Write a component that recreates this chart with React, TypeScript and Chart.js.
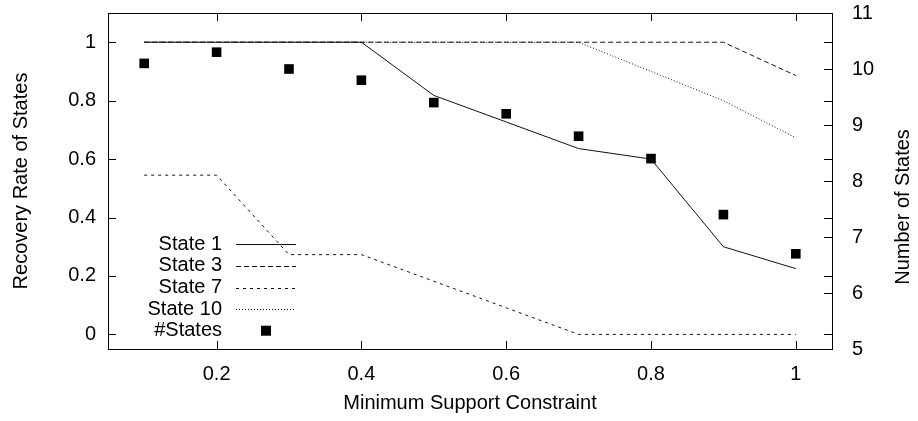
import React, { useEffect, useRef } from "react";
import { Chart, registerables } from "chart.js";

Chart.register(...registerables);

// ---- data ----
const SUPPORT = [0.1, 0.2, 0.3, 0.4, 0.5, 0.6, 0.7, 0.8, 0.9, 1.0];
const STATE_1 = [1, 1, 1, 1, 0.818, 0.727, 0.636, 0.6, 0.3, 0.225];
const STATE_3 = [1, 1, 1, 1, 1, 1, 1, 1, 1, 0.886];
const STATE_7 = [0.545, 0.545, 0.273, 0.273, 0.182, 0.091, 0, 0, 0, 0];
const STATE_10 = [1, 1, 1, 1, 1, 1, 1, 0.9, 0.8, 0.673];
const NUM_STATES = [10.1, 10.3, 10.0, 9.8, 9.4, 9.2, 8.8, 8.4, 7.4, 6.7];

const X_TICKS = [0.2, 0.4, 0.6, 0.8, 1];
const Y_TICKS = [0, 0.2, 0.4, 0.6, 0.8, 1];
const Y2_TICKS = [5, 6, 7, 8, 9, 10, 11];

const LABELS = ["State 1", "State 3", "State 7", "State 10", "#States"];
const X_TITLE = "Minimum Support Constraint";
const Y_TITLE = "Recovery Rate of States";
const Y2_TITLE = "Number of States";

const FONT = "'Liberation Sans', Arial, Helvetica, sans-serif";
const FS = 20;

const pts = (ys: number[]) => SUPPORT.map((x, i) => ({ x, y: ys[i] }));
const fmt = (v: any) => String(+Number(v).toFixed(2));

const zeroPad = (s: any) => {
  s.paddingTop = 0;
  s.paddingBottom = 0;
  s.paddingLeft = 0;
  s.paddingRight = 0;
};

const decorPlugin = {
  id: "decor",
  afterDraw(chart: any) {
    const { ctx, chartArea: a, scales } = chart;
    const T = 8;
    ctx.save();
    ctx.strokeStyle = "#000";
    ctx.lineWidth = 1;
    ctx.strokeRect(a.left + 0.5, a.top + 0.5, a.right - a.left, a.bottom - a.top);
    ctx.beginPath();
    scales.x.ticks.forEach((t: any) => {
      const px = Math.round(scales.x.getPixelForValue(t.value)) + 0.5;
      ctx.moveTo(px, a.bottom);
      ctx.lineTo(px, a.bottom - T);
      ctx.moveTo(px, a.top);
      ctx.lineTo(px, a.top + T);
    });
    scales.y.ticks.forEach((t: any) => {
      const py = Math.round(scales.y.getPixelForValue(t.value)) + 0.5;
      ctx.moveTo(a.left, py);
      ctx.lineTo(a.left + T, py);
      ctx.moveTo(a.right, py);
      ctx.lineTo(a.right - T, py);
    });
    scales.y2.ticks.forEach((t: any) => {
      const py = Math.round(scales.y2.getPixelForValue(t.value)) + 0.5;
      ctx.moveTo(a.right, py);
      ctx.lineTo(a.right - T, py);
    });
    ctx.stroke();

    // right axis title (reads bottom-to-top)
    ctx.save();
    ctx.translate(903, 207);
    ctx.rotate(-Math.PI / 2);
    ctx.font = `${FS}px ${FONT}`;
    ctx.fillStyle = "#000";
    ctx.textAlign = "center";
    ctx.textBaseline = "middle";
    ctx.fillText(Y2_TITLE, 0, 0);
    ctx.restore();

    // legend
    const textRight = 222;
    const sx0 = 236;
    const sx1 = 296;
    const y0 = 244.3;
    const dy = 21.6;
    ctx.font = `${FS}px ${FONT}`;
    ctx.textAlign = "right";
    ctx.textBaseline = "middle";
    chart.data.datasets.forEach((ds: any, i: number) => {
      const y = y0 + i * dy;
      ctx.fillStyle = "#000";
      ctx.fillText(ds.label, textRight, y);
      if (ds.showLine === false) {
        ctx.fillRect((sx0 + sx1) / 2 - 5, y - 5, 10, 10);
      } else {
        ctx.save();
        ctx.strokeStyle = ds.borderColor;
        ctx.lineWidth = ds.borderWidth;
        ctx.setLineDash(ds.borderDash || []);
        ctx.beginPath();
        ctx.moveTo(sx0, Math.round(y) + 0.5);
        ctx.lineTo(sx1, Math.round(y) + 0.5);
        ctx.stroke();
        ctx.restore();
      }
    });
    ctx.restore();
  },
};

export default function App() {
  const ref = useRef<HTMLCanvasElement | null>(null);

  useEffect(() => {
    if (!ref.current) return;
    const lineDs = (label: string, ys: number[], dash: number[]) => ({
      label,
      data: pts(ys),
      borderColor: "#111",
      borderWidth: 1,
      borderDash: dash,
      pointRadius: 0,
      tension: 0,
      fill: false,
      yAxisID: "y",
    });
    const chart = new Chart(ref.current, {
      type: "line",
      data: {
        datasets: [
          lineDs(LABELS[0], STATE_1, []),
          lineDs(LABELS[1], STATE_3, [5, 3]),
          lineDs(LABELS[2], STATE_7, [3, 4]),
          lineDs(LABELS[3], STATE_10, [1, 2]),
          {
            label: LABELS[4],
            data: pts(NUM_STATES),
            showLine: false,
            pointStyle: "rect",
            pointRadius: 6.8,
            pointBorderWidth: 0,
            borderWidth: 0,
            backgroundColor: "#000",
            borderColor: "#000",
            yAxisID: "y2",
          } as any,
        ],
      },
      options: {
        responsive: false,
        animation: false,
        layout: { padding: { top: 13, left: 0, right: 0, bottom: 0 } },
        plugins: { legend: { display: false }, tooltip: { enabled: false } },
        scales: {
          x: {
            type: "linear",
            min: 0.05,
            max: 1.05,
            grid: { display: false, drawTicks: false },
            border: { display: false },
            afterBuildTicks: (s: any) => {
              s.ticks = X_TICKS.map((v) => ({ value: v }));
            },
            afterFit: (s: any) => {
              s.height = 72;
              zeroPad(s);
            },
            ticks: {
              autoSkip: false,
              maxRotation: 0,
              padding: 13,
              color: "#000",
              font: { family: FONT, size: FS },
              callback: fmt,
            },
            title: {
              display: true,
              text: X_TITLE,
              color: "#000",
              font: { family: FONT, size: FS },
              padding: { top: 0, bottom: 6 },
            },
          },
          y: {
            type: "linear",
            position: "left",
            min: -0.05,
            max: 1.1,
            grid: { display: false, drawTicks: false },
            border: { display: false },
            afterBuildTicks: (s: any) => {
              s.ticks = Y_TICKS.map((v) => ({ value: v }));
            },
            afterFit: (s: any) => {
              s.width = 108;
              zeroPad(s);
            },
            ticks: {
              autoSkip: false,
              padding: 12,
              color: "#000",
              font: { family: FONT, size: FS },
              callback: fmt,
            },
            title: {
              display: true,
              text: Y_TITLE,
              color: "#000",
              font: { family: FONT, size: FS },
              padding: { top: 9, bottom: 0 },
            },
          },
          y2: {
            type: "linear",
            position: "right",
            min: 5,
            max: 11,
            grid: { display: false, drawTicks: false },
            border: { display: false },
            afterBuildTicks: (s: any) => {
              s.ticks = Y2_TICKS.map((v) => ({ value: v }));
            },
            afterFit: (s: any) => {
              s.width = 86;
              zeroPad(s);
            },
            ticks: {
              autoSkip: false,
              padding: 20,
              color: "#000",
              font: { family: FONT, size: FS },
              callback: fmt,
            },
          },
        },
      },
      plugins: [decorPlugin],
    } as any);
    return () => chart.destroy();
  }, []);

  return (
    <div style={{ position: "fixed", left: 0, top: 0, width: 918, height: 421, background: "#fff" }}>
      <canvas ref={ref} width={918} height={421} style={{ display: "block" }} />
    </div>
  );
}
